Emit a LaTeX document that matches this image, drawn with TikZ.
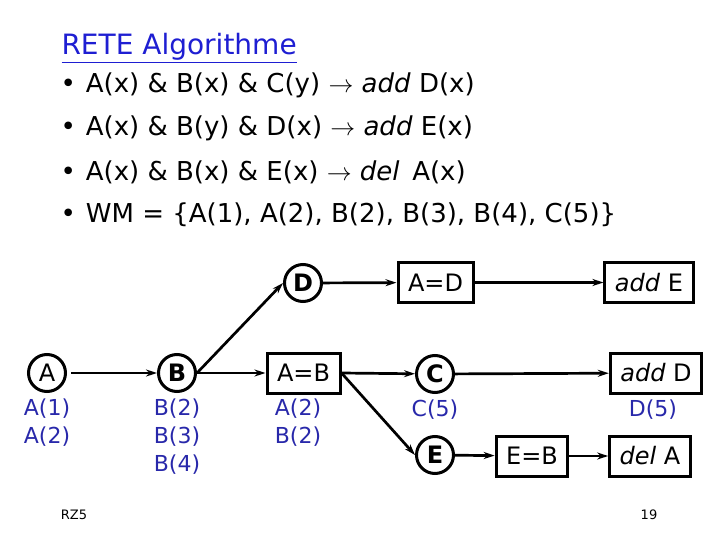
\documentclass[tikz,border=0pt]{standalone}
\usepackage{fontspec}
\setmainfont{DejaVu Sans}
\usetikzlibrary{arrows.meta}

\definecolor{titleblue}{RGB}{30,30,210}
\definecolor{wmblue}{RGB}{40,40,170}

\tikzset{
	alphanode/.style={circle,draw,line width=3pt,minimum size=37pt,inner sep=0pt,font=\fontsize{24}{24}\selectfont\bfseries},
	betanode/.style={rectangle,draw,line width=3pt,minimum height=40pt,inner xsep=10pt,font=\fontsize{24}{24}\selectfont},
	wmlabel/.style={text=wmblue,font=\fontsize{22}{28}\selectfont,align=center},
	rule/.style={anchor=west,font=\fontsize{26}{26}\selectfont},
	flow/.style={line width=2.7pt,-{Stealth[length=11pt,width=7pt]}}
}

\begin{document}
\begin{tikzpicture}[x=1pt,y=-1pt]
	\useasboundingbox (0,0) rectangle (720,540);
	% title and rules
	\node[anchor=west,text=titleblue,font=\fontsize{28}{28}\selectfont] (title) at (58,48) {\underline{RETE Algorithme}};
	\node[rule] (r1) at (57,85) {\textbullet\hspace{10pt}A(x) \& B(x) \& C(y) $\rightarrow$ \textit{add} D(x)};
	\node[rule] (r2) at (57,128) {\textbullet\hspace{10pt}A(x) \& B(y) \& D(x) $\rightarrow$ \textit{add} E(x)};
	\node[rule] (r3) at (57,172) {\textbullet\hspace{10pt}A(x) \& B(x) \& E(x) $\rightarrow$ \textit{del}\, A(x)};
	\node[rule] (r4) at (57,215) {\textbullet\hspace{10pt}WM = \{A(1), A(2), B(2), B(3), B(4), C(5)\}};

	% network
	\node[alphanode] (A) at (47,373) {\mdseries A};
	\node[alphanode] (B) at (177,373) {B};
	\node[alphanode] (D) at (303,283) {D};
	\node[alphanode] (C) at (435,374) {C};
	\node[alphanode] (E) at (435,455) {E};
	\node[betanode] (AB) at (303.5,373) {A=B};
	\node[betanode] (AD) at (435.5,282.5) {A=D};
	\node[betanode] (EB) at (532,456) {E=B};
	\node[betanode] (addE) at (649,282.5) {\textit{add} E};
	\node[betanode] (addD) at (656,373) {\textit{add} D};
	\node[betanode] (delA) at (650,456) {\textit{del} A};

	% working memory
	\node[wmlabel] (wmA) at (47,423) {A(1)\\A(2)};
	\node[wmlabel] (wmB) at (177,437) {B(2)\\B(3)\\B(4)};
	\node[wmlabel] (wmAB) at (298,423) {A(2)\\B(2)};
	\node[wmlabel] (wmC) at (435,410) {C(5)};
	\node[wmlabel] (wmD) at (653,410) {D(5)};

	\draw[flow,shorten <=4pt] (A) -- (B);
	\draw[flow] (B.east) -- (D.west);
	\draw[flow] (B) -- (AB);
	\draw[flow] (D) -- (AD);
	\draw[flow] (AD) -- (addE);
	\draw[flow] (AB.east) -- (C);
	\draw[flow] (AB.east) -- (E.west);
	\draw[flow] (C) -- (addD);
	\draw[flow] (E) -- (EB);
	\draw[flow] (EB) -- (delA);

	% footer
	\node[font=\fontsize{13}{13}\selectfont] (rz) at (74,515) {RZ5};
	\node[font=\fontsize{13}{13}\selectfont] (page) at (649,515) {19};
\end{tikzpicture}
\end{document}
